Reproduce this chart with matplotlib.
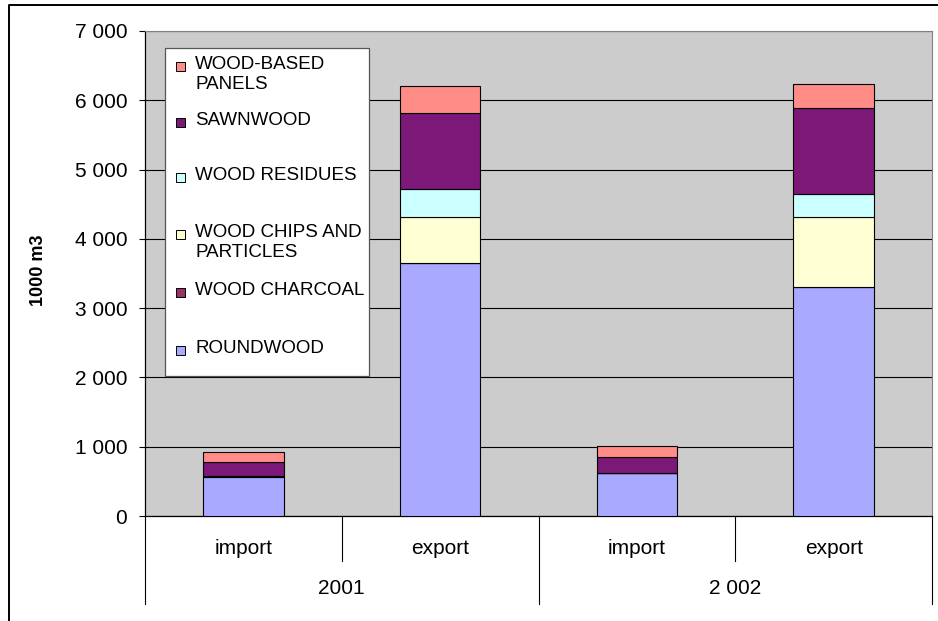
import matplotlib
matplotlib.use("Agg")
import matplotlib.pyplot as plt
from matplotlib.lines import Line2D
from matplotlib.patches import Rectangle
from matplotlib.ticker import FuncFormatter, MultipleLocator

plt.rcParams['font.family'] = ['Liberation Sans', 'DejaVu Sans']

# categories (two-level axis)
flows = ["import", "export", "import", "export"]
years = ["2001", "2 002"]

# series, bottom to top, in 1000 m3
series_names = ["ROUNDWOOD", "WOOD CHARCOAL", "WOOD CHIPS AND\nPARTICLES",
                "WOOD RESIDUES", "SAWNWOOD", "WOOD-BASED\nPANELS"]
roundwood = [570, 3650, 614, 3310]
charcoal = [1, 1, 1, 1]
chips = [1, 670, 2, 1010]
residues = [2, 400, 2, 320]
sawnwood = [199, 1090, 226, 1250]
panels = [157, 390, 160, 350]
colors = ["#A9AAFF", "#993366", "#FFFFD4", "#CCFFFF", "#7B1878", "#FF8C86"]

values = [roundwood, charcoal, chips, residues, sawnwood, panels]

W, H = 938, 621
fig = plt.figure(figsize=(W / 100, H / 100), dpi=100)
ax = fig.add_axes([145 / W, (H - 516) / H, 787 / W, 485 / H])
ax.set_facecolor("#CCCCCC")

x = list(range(len(flows)))
bottom = [0] * len(flows)
for name, vals, c in zip(series_names, values, colors):
    ax.bar(x, vals, width=0.41, bottom=bottom, color=c,
           edgecolor="black", linewidth=0.8, zorder=3)
    bottom = [bt + v for bt, v in zip(bottom, vals)]

ax.set_xlim(-0.5, len(flows) - 0.5)
ax.set_ylim(0, 7000)
ax.yaxis.set_major_locator(MultipleLocator(1000))
ax.yaxis.set_major_formatter(FuncFormatter(lambda v, p: f"{int(v):,}".replace(",", " ")))
ax.grid(axis="y", color="black", linewidth=0.8, zorder=1)
ax.tick_params(axis="y", direction="out", length=4.3, width=0.8, pad=8.5, labelsize=15)
ax.set_xticks([])

for s in ["top", "right"]:
    ax.spines[s].set_color("#808080")
for s in ["left", "bottom"]:
    ax.spines[s].set_color("black")
    ax.spines[s].set_linewidth(0.9)

ax.set_ylabel("1000 m3", fontsize=13, fontweight="bold")
ax.yaxis.set_label_coords(-0.124, 0.507)

# two-level category axis below the plot
tr = ax.get_xaxis_transform()
short_y = -45 / 485
long_y = -88 / 485
for i in range(len(flows) + 1):
    xb = i - 0.5
    y_end = long_y if i % 2 == 0 else short_y
    ax.add_line(Line2D([xb, xb], [0, y_end], transform=tr, color="black",
                       linewidth=0.8, clip_on=False))
for i, f in enumerate(flows):
    ax.text(i, -32 / 485, f, transform=tr, ha="center", va="center", fontsize=15)
for j, yr in enumerate(years):
    ax.text(2 * j + 0.5, -72 / 485, yr, transform=tr, ha="center", va="center", fontsize=15)

# legend box drawn like the spreadsheet one (entries top to bottom)
def fx(px):
    return px / W

def fy(py):
    return (H - py) / H

fig.add_artist(Rectangle((fx(165), fy(376)), fx(369) - fx(165), fy(48) - fy(376),
                         transform=fig.transFigure, facecolor="white",
                         edgecolor="#555555", linewidth=0.9, zorder=5))
entry_y = [66, 122, 177, 234, 292, 350]
for k, idx in enumerate(reversed(range(len(series_names)))):
    yy = entry_y[k]
    fig.add_artist(Rectangle((fx(176), fy(yy + 4.5)), 9 / W, 9 / H,
                             transform=fig.transFigure, facecolor=colors[idx],
                             edgecolor="black", linewidth=0.7, zorder=6))
    fig.text(fx(195), fy(yy - 10), series_names[idx], ha="left", va="top",
             fontsize=13.5, linespacing=1.2, zorder=6)

# outer chart frame
fig.add_artist(Line2D([fx(9), fx(9), fx(940)], [fy(625), fy(5), fy(5)],
                      transform=fig.transFigure, color="black", linewidth=1.4))

fig.savefig("out.png", dpi=100)
